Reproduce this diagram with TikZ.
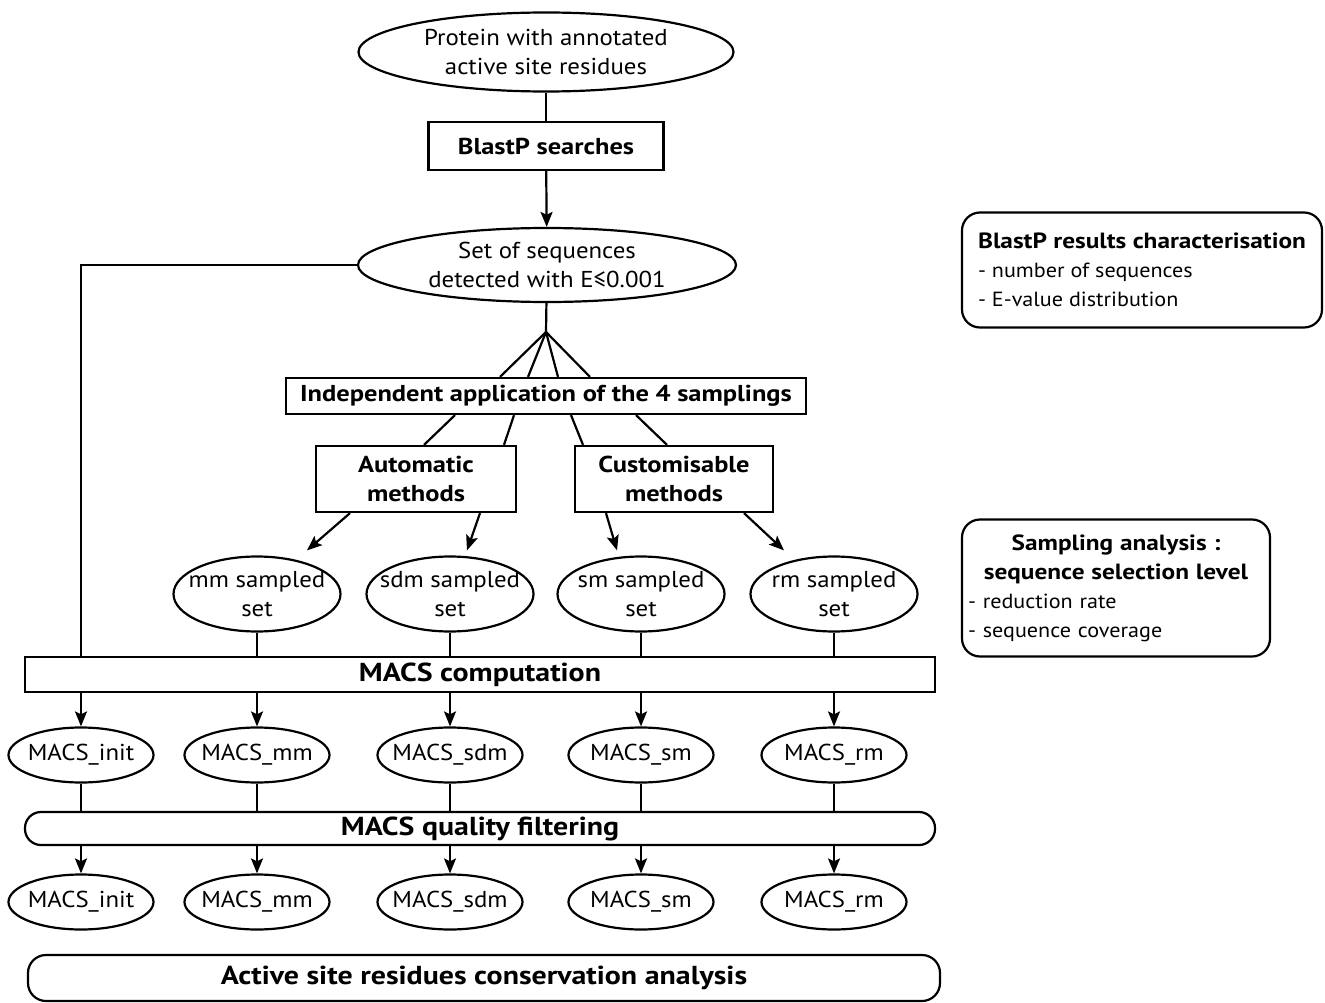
\documentclass[tikz,border=0pt]{standalone}
\usepackage{fontspec}
\setmainfont{PT Sans}[FakeStretch=1.08, BoldFeatures={FakeStretch=1.15}]
\usetikzlibrary{shapes.geometric, arrows.meta, positioning, calc}

\begin{document}
\begin{tikzpicture}[x=1pt, y=-1pt, line width=2.2pt,
  font=\fontsize{23}{29}\selectfont,
  oval/.style={draw, ellipse, inner sep=0pt, label={[align=center]center:#1}},
  box/.style={draw, rectangle, inner sep=0pt, align=center, font=\fontsize{23}{29}\selectfont\bfseries},
  wide/.style={box, minimum width=910pt, minimum height=35pt, font=\fontsize{26}{29}\selectfont\bfseries},
  note/.style={draw, rectangle, rounded corners=18pt, inner sep=6pt, align=left, font=\fontsize{20.5}{29}\selectfont},
  arr/.style={-{Stealth[length=15pt,width=12pt,inset=3pt]}}]
\useasboundingbox (0,0) rectangle (1325,1003);

% BlastP part
\node[oval={Protein with annotated\\active site residues}, minimum width=375pt, minimum height=79pt] (protein) at (546,52) {};
\node[box, minimum width=235pt, minimum height=48pt] (blastp) at (546,146) {BlastP searches};
\node[oval={Set of sequences\\detected with E≤0.001}, minimum width=378pt, minimum height=74pt] (seqset) at (547,265) {};
\draw (protein) -- (blastp);
\draw[arr] (blastp) -- (seqset);

% samplings
\coordinate (fan) at (546,332);
\node[box, minimum width=520pt, minimum height=36pt] (indep) at (546,396) {Independent application of the 4 samplings};
\node[box, minimum width=200pt, minimum height=66pt] (auto) at (416,479) {Automatic\\methods};
\node[box, minimum width=198pt, minimum height=66pt] (custom) at (674,479) {Customisable\\methods};
\draw (seqset) -- (fan);
\foreach \dx in {-46,-18,12,44}
  \draw (fan) -- ([xshift=\dx pt]indep.north);
\draw ([xshift=-91pt]indep.south) -- ([xshift=8pt]auto.north);
\draw ([xshift=-32pt]indep.south) -- ([xshift=88pt]auto.north);
\draw ([xshift=25pt]indep.south) -- ([xshift=-91pt]custom.north);
\draw ([xshift=90pt]indep.south) -- ([xshift=-7pt]custom.north);

\foreach \s/\x in {mm/257, sdm/450, sm/641, rm/834}
  \node[oval={\s{} sampled\\set}, minimum width=167pt, minimum height=75pt] (\s) at (\x,594) {};
\draw[arr] ([xshift=-66pt]auto.south) -- ([xshift=50pt,yshift=5pt]mm.north);
\draw[arr] ([xshift=64pt]auto.south) -- ([xshift=17pt,yshift=5pt]sdm.north);
\draw[arr] ([xshift=-68pt]custom.south) -- ([xshift=-24pt,yshift=5pt]sm.north);
\draw[arr] ([xshift=70pt]custom.south) -- ([xshift=-50pt,yshift=5pt]rm.north);

% MACS rows
\node[wide] (macscomp) at (480,674.5) {MACS computation};
\node[wide, rounded corners=16pt, minimum height=33pt] (filter) at (480,828.5) {MACS quality filtering};
\node[wide, rounded corners=18pt, minimum width=912pt, minimum height=46pt] (final) at (484,978) {Active site residues conservation analysis};

\foreach \n/\x/\t in {1/81/init, 2/257/mm, 3/450/sdm, 4/641/sm, 5/834/rm} {
  \node[oval={MACS\_\t}, minimum width=145pt, minimum height=55pt] (r1-\n) at (\x,755) {};
  \node[oval={MACS\_\t}, minimum width=145pt, minimum height=55pt] (r2-\n) at (\x,902) {};
  \draw[arr] (r1-\n |- macscomp.south) -- (r1-\n);
  \draw (r1-\n) -- (r1-\n |- filter.north);
  \draw[arr] (r2-\n |- filter.south) -- (r2-\n);
}
\foreach \s in {mm, sdm, sm, rm}
  \draw (\s) -- (\s |- macscomp.north);
\draw (seqset.west) -| (r1-1 |- macscomp.north);

% result boxes
\node[note, minimum width=360pt, minimum height=115pt] (charac) at (1142,270)
  {{\fontsize{22}{29}\selectfont\bfseries BlastP results characterisation}\\- number of sequences\\- E-value distribution};
\node[note, minimum width=308pt, minimum height=137pt, text width=296pt] (sampana) at (1116,588)
  {{\centering\fontsize{22}{29}\selectfont\bfseries Sampling analysis :\\ sequence selection level\par}- reduction rate\\- sequence coverage};
\end{tikzpicture}
\end{document}
